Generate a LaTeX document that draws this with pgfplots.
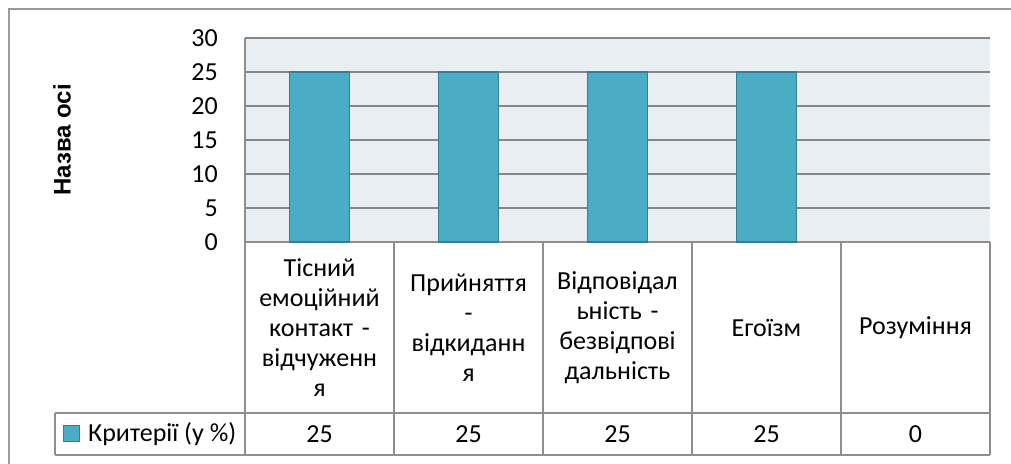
\documentclass[border=0pt]{standalone}
\usepackage{pgfplots}
\pgfplotsset{compat=1.18}
\usepackage{pgfplotstable}
\usepackage{fontspec}
\setmainfont{Carlito}
\newfontfamily\arialb{Liberation Sans}
\definecolor{bgc}{HTML}{E8EEF2}
\definecolor{barc}{HTML}{4BACC6}
\definecolor{barb}{HTML}{357F94}
\definecolor{gridc}{HTML}{868686}
\definecolor{linec}{HTML}{8E8E8E}
\definecolor{framec}{HTML}{9A9A9A}
\pgfplotstableread{
x y
0 25
1 25
2 25
3 25
4 0
}\data
\begin{document}
\fontsize{26pt}{30pt}\selectfont
\begin{tikzpicture}
\useasboundingbox (0pt,0pt) rectangle (1011pt,463pt);
\draw[framec, line width=2pt] (9pt,-20pt) -- (9pt,454pt) -- (1030pt,454pt);
\begin{axis}[
  at={(245pt,221pt)}, anchor=south west,
  scale only axis, width=745pt, height=204pt,
  xmin=-0.5, xmax=4.5, ymin=0, ymax=30,
  ytick={0,5,...,30},
  xtick={0,1,2,3,4},
  xticklabels={{Тісний\\емоційний\\контакт -\\відчуженн\\я},{Прийняття\\-\\відкиданн\\я},{Відповідал\\ьність -\\безвідпові\\дальність},{Егоїзм},{Розуміння}},
  xticklabel style={anchor=center, yshift=-85.5pt, text width=147pt, align=center, font=\fontsize{26pt}{30pt}\selectfont},
  yticklabel style={anchor=east, inner sep=0pt, xshift=-27pt, font=\fontsize{26pt}{30pt}\selectfont},
  /pgf/number format/assume math mode=true,
  major tick length=0pt,
  axis background/.style={fill=bgc},
  ymajorgrids, grid style={gridc, line width=2pt},
  axis x line*=bottom, axis y line*=left,
  axis line style={linec, line width=2pt, -},
  clip=false,
  ylabel={Назва осі},
  every axis y label/.style={at={(axis description cs:-0.2456,0.5)}, rotate=90, anchor=center, font=\arialb\bfseries\fontsize{24pt}{28pt}\selectfont},
  legend style={at={(axis description cs:-0.2443,-0.941)}, anchor=west, draw=none, fill=none, inner sep=0pt, column sep=8pt, nodes={inner sep=0pt}, font=\fontsize{26pt}{30pt}\selectfont},
  legend image code/.code={\draw[fill=barc, draw=barb, line width=1pt] (0pt,-8pt) rectangle (16pt,8pt);},
]
\addplot[ybar, bar width=60pt, bar shift=0pt, fill=barc, draw=barb, line width=1.5pt, y filter/.expression={y==0 ? nan : y}] table[x=x,y=y]{\data};
\addlegendentry{Критерії (у \%)}
\addplot[draw=none, mark=none, nodes near coords, point meta=explicit, every node near coord/.append style={anchor=center, yshift=0pt, font=\fontsize{26pt}{30pt}\selectfont}, forget plot] table[x=x, y expr=-28.235, meta=y]{\data};
\end{axis}
\begin{scope}[linec, line width=2pt]
\draw (55pt,50pt) -- (990pt,50pt);
\draw (55pt,8pt) -- (990pt,8pt);
\draw (55pt,50pt) -- (55pt,8pt);
\foreach \x in {245,394,543,692,841,990} \draw (\x pt,221pt) -- (\x pt,8pt);
\end{scope}
\end{tikzpicture}
\end{document}
